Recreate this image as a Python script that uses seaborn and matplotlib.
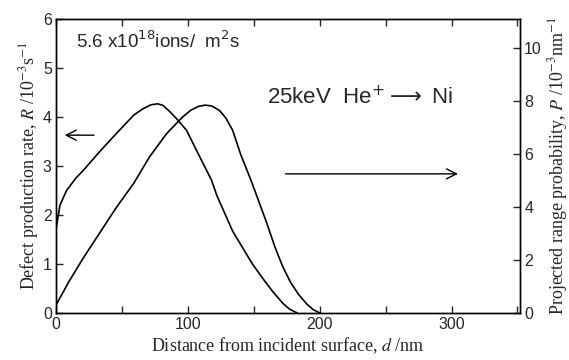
import matplotlib
matplotlib.use("Agg")
import matplotlib.pyplot as plt
import seaborn as sns
import pandas as pd
from matplotlib.ticker import MultipleLocator

# defect production rate R (left axis)
depth_r = [0, 3, 8, 15, 21, 33, 46, 59, 66, 72, 77, 81, 86, 92, 99, 109, 118, 122, 134, 149, 157, 164, 172, 177, 183]
rate_r = [1.7, 2.2, 2.5, 2.75, 2.92, 3.29, 3.67, 4.04, 4.17, 4.25, 4.27, 4.24, 4.12, 3.95, 3.73, 3.19, 2.71, 2.4, 1.67, 1.0, 0.7, 0.45, 0.2, 0.08, 0.0]

# projected range probability P (right axis)
depth_p = [0, 10, 21, 46, 59, 71, 84, 96, 102, 108, 113, 118, 124, 129, 134, 140, 148, 160, 166, 172, 178, 184, 190, 195, 200]
prob_p = [0.3, 1.2, 2.1, 4.0, 4.9, 5.9, 6.78, 7.4, 7.65, 7.8, 7.85, 7.82, 7.65, 7.35, 6.9, 6.0, 5.0, 3.38, 2.5, 1.75, 1.15, 0.7, 0.35, 0.13, 0.0]

x_ticks = [0, 100, 200, 300]
left_ticks = [0, 1, 2, 3, 4, 5, 6]
right_ticks = [0, 2, 4, 6, 8, 10]

df_r = pd.DataFrame({"d": depth_r, "R": rate_r})
df_p = pd.DataFrame({"d": depth_p, "P": prob_p})

sns.set_style("ticks")
plt.rcParams["font.family"] = ["Liberation Sans", "DejaVu Sans"]

fig = plt.figure(figsize=(5.69, 3.6), dpi=100)
ax = fig.add_axes([0.0984, 0.1306, 0.8156, 0.8164])
ax2 = ax.twinx()

sns.lineplot(data=df_r, x="d", y="R", ax=ax, color="black", lw=1.2, sort=False)
sns.lineplot(data=df_p, x="d", y="P", ax=ax2, color="black", lw=1.2, sort=False)

ax.set_xlim(0, 352)
ax.set_ylim(0, 6)
ax2.set_ylim(0, 11.1)

ax.set_xticks(x_ticks)
ax.xaxis.set_minor_locator(MultipleLocator(50))
ax.set_yticks(left_ticks)
ax2.set_yticks(right_ticks)

ax.tick_params(axis="x", which="both", direction="in", top=True, bottom=True, length=5, width=1, labelsize=11.5, pad=3)
ax.tick_params(axis="y", direction="in", left=True, right=False, length=5, width=1, labelsize=11.5, pad=3)
ax2.tick_params(axis="y", direction="in", right=True, length=5, width=1, labelsize=11.5, pad=3)

for a in (ax, ax2):
    for s in a.spines.values():
        s.set_linewidth(1.0)
        s.set_color("black")

serif = ["Liberation Serif", "DejaVu Serif"]
ax.set_xlabel("Distance from incident surface, $d$ /nm", family=serif, fontsize=13,
              math_fontfamily="stix", labelpad=2)
ax.set_ylabel("Defect production rate, $R$ /10$^{-3}$s$^{-1}$", family=serif, fontsize=13,
              math_fontfamily="stix", labelpad=1)
ax2.set_ylabel("Projected range probability, $P$ /10$^{-3}$nm$^{-1}$", family=serif, fontsize=13,
               math_fontfamily="stix", labelpad=3)

ax.text(15, 5.55, "5.6 x10$^{18}$ions/  m$^{2}$s", fontsize=13.5, ha="left", va="center",
        math_fontfamily="dejavusans")
ax.text(160, 4.4, "25keV  He$^{+}$$\\longrightarrow$ Ni", fontsize=16, ha="left", va="center",
        math_fontfamily="dejavusans")

ax.annotate("", xy=(4.5, 3.63), xytext=(31, 3.63),
            arrowprops=dict(arrowstyle="->", color="black", lw=1.0, mutation_scale=18))
ax.annotate("", xy=(307, 2.84), xytext=(172, 2.84),
            arrowprops=dict(arrowstyle="->", color="black", lw=1.0, mutation_scale=18))

fig.savefig("out.png", dpi=100)
